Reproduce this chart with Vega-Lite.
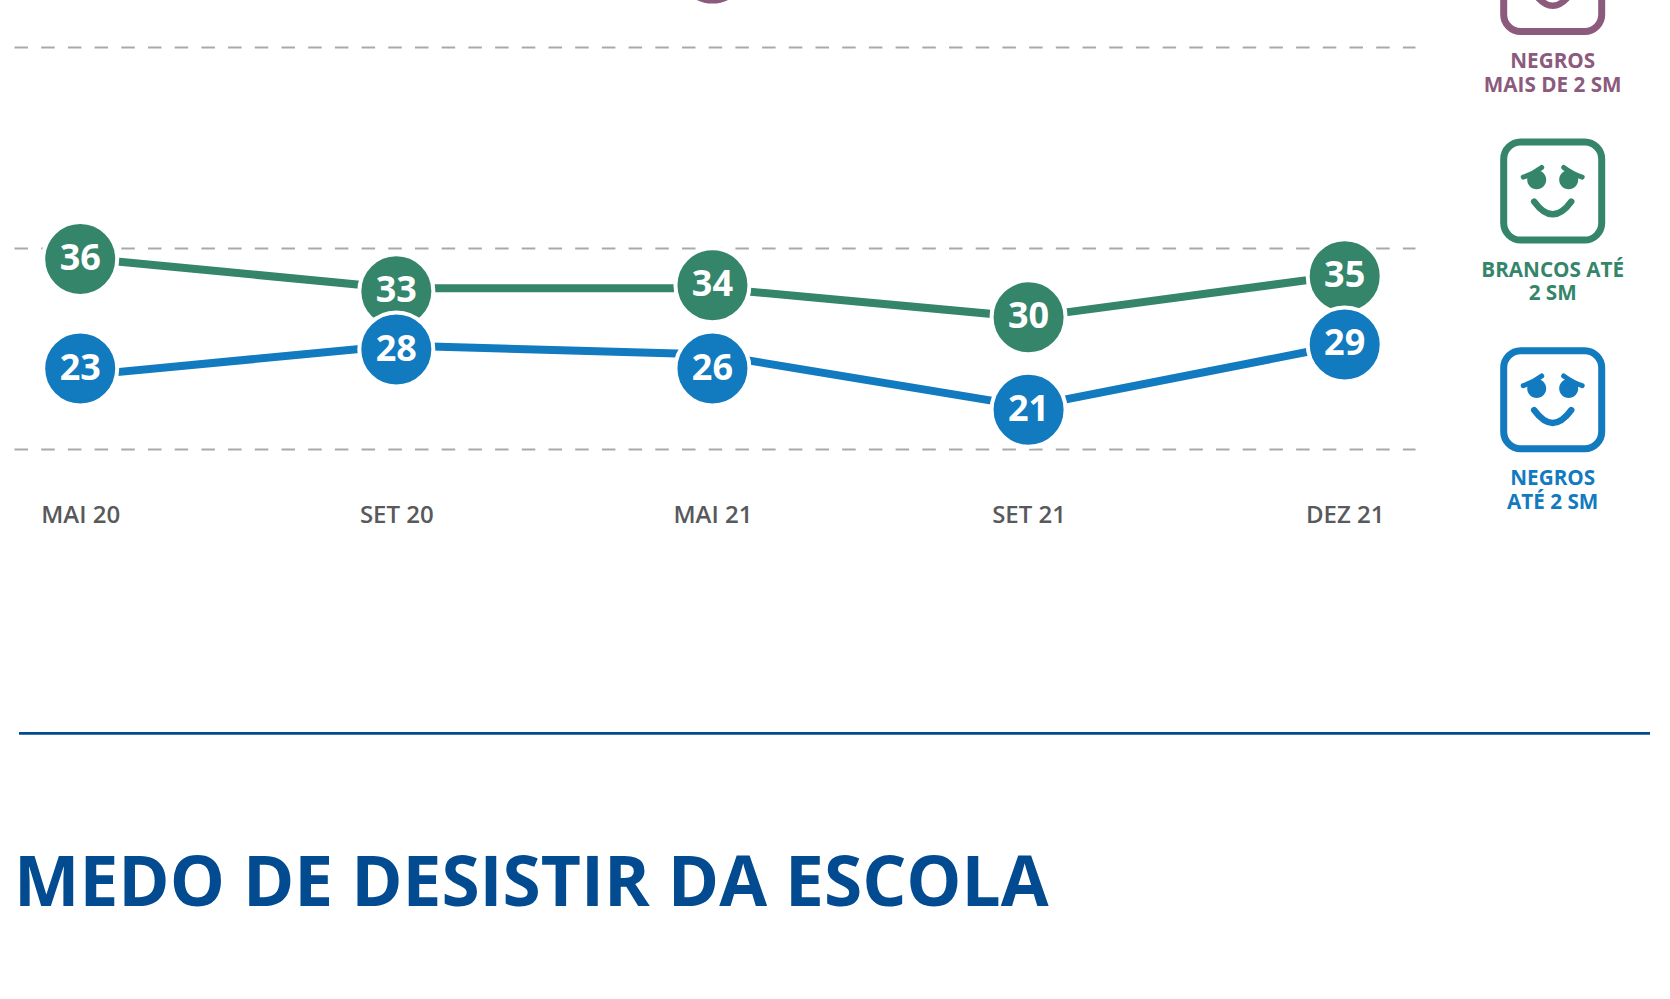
{
"$schema":"https://vega.github.io/schema/vega-lite/v6.json",
"width":1401,"height":402,
"autosize":{"type":"none"},
"padding":{"left":14,"top":47,"right":255,"bottom":550},
"background":"white",
"title":{"text":"MEDO DE DESISTIR DA ESCOLA","orient":"bottom","anchor":"start","frame":"group","offset":171,"dx":0,"font":"Open Sans","fontWeight":700,"fontSize":69.4,"color":"#024b90","baseline":"alphabetic"},
"config":{"view":{"stroke":null},"font":"Open Sans"},
"datasets":{
"series":[
{"periodo":"MAI 21","grupo":"NEGROS MAIS DE 2 SM","nivel_ponto":67.8},
{"periodo":"MAI 20","grupo":"BRANCOS ATÉ 2 SM","rotulo":36,"nivel_linha":39.0,"nivel_ponto":38.9},
{"periodo":"SET 20","grupo":"BRANCOS ATÉ 2 SM","rotulo":33,"nivel_linha":36.0,"nivel_ponto":35.7},
{"periodo":"MAI 21","grupo":"BRANCOS ATÉ 2 SM","rotulo":34,"nivel_linha":36.0,"nivel_ponto":36.3},
{"periodo":"SET 21","grupo":"BRANCOS ATÉ 2 SM","rotulo":30,"nivel_linha":33.1,"nivel_ponto":33.1},
{"periodo":"DEZ 21","grupo":"BRANCOS ATÉ 2 SM","rotulo":35,"nivel_linha":37.3,"nivel_ponto":37.2},
{"periodo":"MAI 20","grupo":"NEGROS ATÉ 2 SM","rotulo":23,"nivel_linha":27.3,"nivel_ponto":28.0},
{"periodo":"SET 20","grupo":"NEGROS ATÉ 2 SM","rotulo":28,"nivel_linha":30.3,"nivel_ponto":29.9},
{"periodo":"MAI 21","grupo":"NEGROS ATÉ 2 SM","rotulo":26,"nivel_linha":29.4,"nivel_ponto":28.0},
{"periodo":"SET 21","grupo":"NEGROS ATÉ 2 SM","rotulo":21,"nivel_linha":24.2,"nivel_ponto":23.9},
{"periodo":"DEZ 21","grupo":"NEGROS ATÉ 2 SM","rotulo":29,"nivel_linha":30.4,"nivel_ponto":30.4}
],
"grupos":[
{"grupo":"NEGROS MAIS DE 2 SM","linhas":["NEGROS","MAIS DE 2 SM"]},
{"grupo":"BRANCOS ATÉ 2 SM","linhas":["BRANCOS ATÉ","2 SM"]},
{"grupo":"NEGROS ATÉ 2 SM","linhas":["NEGROS","ATÉ 2 SM"]}
]
},
"resolve":{"scale":{"x":"independent","y":"independent","color":"independent"},"axis":{"x":"independent","y":"independent"}},
"layer":[
{
"data":{"name":"series"},
"encoding":{
"x":{"field":"periodo","type":"ordinal","sort":null,"scale":{"type":"point","padding":0.2159,"align":0.485,"domain":["MAI 20","SET 20","MAI 21","SET 21","DEZ 21"]},
"axis":{"title":null,"ticks":false,"domain":false,"labelAngle":0,"labelFont":"Open Sans","labelFontWeight":600,"labelFontSize":24,"labelColor":"#58595b","labelBaseline":"alphabetic","labelPadding":73,"labelOverlap":false,"grid":false}},
"color":{"field":"grupo","type":"nominal","legend":null,"scale":{"domain":["NEGROS MAIS DE 2 SM","BRANCOS ATÉ 2 SM","NEGROS ATÉ 2 SM"],"range":["#8c5a7c","#35856a","#127abf"]}}
},
"layer":[
{"data":{"values":[{"marca":"divisor","nivel":-8.29}]},
 "mark":{"type":"rule","strokeWidth":2.7,"color":"#024b90"},
 "encoding":{"x":{"value":5},"x2":{"value":1636},"color":{"value":"#024b90"},
 "y":{"field":"nivel","type":"quantitative","scale":{"domain":[20,60],"range":[402,0]},
 "axis":{"title":null,"values":[20,40,60],"labels":false,"ticks":false,"domain":false,"grid":true,"gridColor":"#a7a9ac","gridWidth":2,"gridDash":[13.5,13.2]}}}},
{"mark":{"type":"line","strokeWidth":8},
 "transform":[{"filter":"datum.nivel_linha != null"}],
 "encoding":{"y":{"field":"nivel_linha","type":"quantitative","scale":{"domain":[20,60],"range":[402,0]},
 "axis":{"title":null,"values":[20,40,60],"labels":false,"ticks":false,"domain":false,"grid":true,"gridColor":"#a7a9ac","gridWidth":2,"gridDash":[13.5,13.2]}},"detail":{"field":"grupo"}}},
{"mark":{"type":"point","filled":true,"opacity":1,"size":5476,"stroke":"white","strokeWidth":4,"shape":"circle"},
 "encoding":{"y":{"field":"nivel_ponto","type":"quantitative","scale":{"domain":[20,60],"range":[402,0]},
 "axis":{"title":null,"values":[20,40,60],"labels":false,"ticks":false,"domain":false,"grid":true,"gridColor":"#a7a9ac","gridWidth":2,"gridDash":[13.5,13.2]}},
 "fill":{"field":"grupo","type":"nominal","legend":null,"scale":{"domain":["NEGROS MAIS DE 2 SM","BRANCOS ATÉ 2 SM","NEGROS ATÉ 2 SM"],"range":["#8c5a7c","#35856a","#127abf"]}},"color":{"value":"white"}}},
{"mark":{"type":"text","font":"Open Sans","fontWeight":700,"fontSize":36,"baseline":"middle","align":"center","dy":0},
 "transform":[{"filter":"datum.rotulo != null"}],
 "encoding":{"y":{"field":"nivel_ponto","type":"quantitative","scale":{"domain":[20,60],"range":[402,0]},
 "axis":{"title":null,"values":[20,40,60],"labels":false,"ticks":false,"domain":false,"grid":true,"gridColor":"#a7a9ac","gridWidth":2,"gridDash":[13.5,13.2]}},
 "text":{"field":"rotulo","type":"quantitative"},"color":{"value":"white"}}}
]
},
{
"data":{"name":"grupos"},
"encoding":{
"x":{"datum":"legenda","type":"nominal","scale":{"type":"point","padding":0,"domain":["legenda"],"range":[1538.7,1538.7]},"axis":null},
"y":{"field":"grupo","type":"nominal","sort":null,"scale":{"type":"point","padding":0,"domain":["NEGROS MAIS DE 2 SM","BRANCOS ATÉ 2 SM","NEGROS ATÉ 2 SM"],"range":[-64.5,352.7]},"axis":null},
"color":{"field":"grupo","type":"nominal","legend":null,"scale":{"domain":["NEGROS MAIS DE 2 SM","BRANCOS ATÉ 2 SM","NEGROS ATÉ 2 SM"],"range":["#8c5a7c","#35856a","#127abf"]}}
},
"layer":[
{"mark":{"type":"point","filled":false,"opacity":1,"size":4,"strokeWidth":7,"shape":"M-32,-49 H32 A17,17 0 0 1 49,-32 V32 A17,17 0 0 1 32,49 H-32 A17,17 0 0 1 -49,32 V-32 A17,17 0 0 1 -32,-49 Z"}},
{"mark":{"type":"point","filled":false,"opacity":1,"size":4,"strokeWidth":5,"strokeCap":"round","shape":"M-29.5,-14 Q-20,-17 -11,-23.7 M29.5,-14 Q20,-17 11,-23.7"}},
{"mark":{"type":"point","filled":false,"opacity":1,"size":4,"strokeWidth":6.5,"strokeCap":"round","shape":"M-18.5,10.5 Q0,36 18.5,10.5"}},
{"mark":{"type":"point","filled":true,"opacity":1,"size":4,"shape":"M-25.5,-11.3 A9.5,9.5 0 1 1 -6.5,-11.3 A9.5,9.5 0 1 1 -25.5,-11.3 Z M6.5,-11.3 A9.5,9.5 0 1 1 25.5,-11.3 A9.5,9.5 0 1 1 6.5,-11.3 Z"}},
{"mark":{"type":"text","font":"Open Sans","fontWeight":700,"fontSize":20.7,"align":"center","baseline":"alphabetic","dy":85.5,"lineHeight":23.5},
 "encoding":{"text":{"field":"linhas"}}}
]
}
]
}
